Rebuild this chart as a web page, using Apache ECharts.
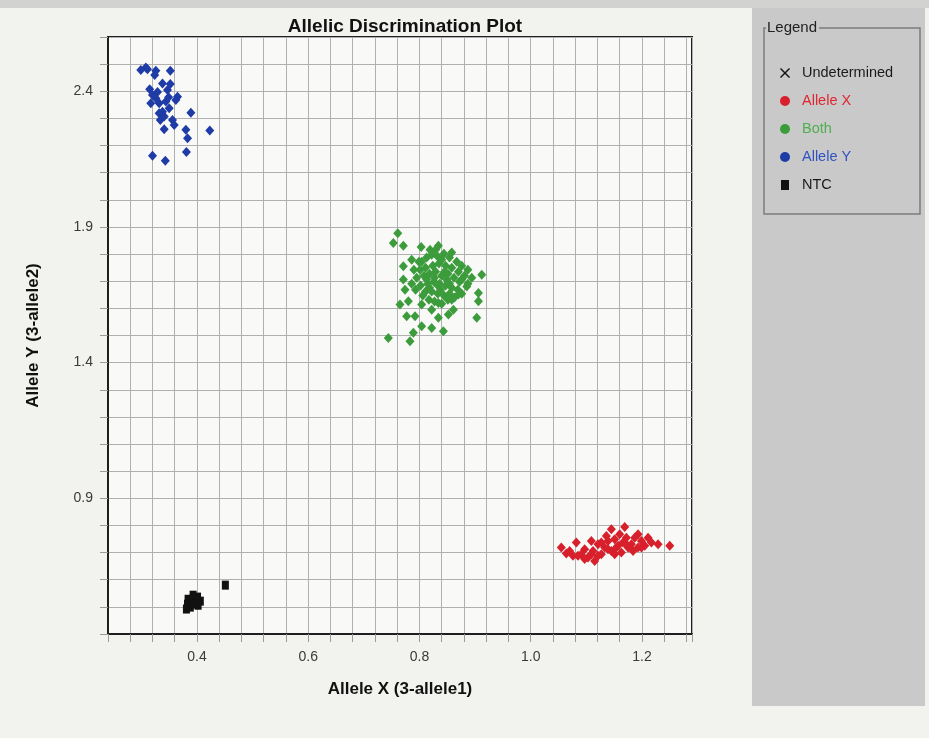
<!DOCTYPE html>
<html>
<head>
<meta charset="utf-8">
<title>Allelic Discrimination Plot</title>
<script src="https://cdn.jsdelivr.net/npm/echarts@6.0.0/dist/echarts.min.js"></script>
<style>
  html, body { margin: 0; padding: 0; background: #f2f2ee; }
  #chart { width: 929px; height: 738px; }
</style>
</head>
<body>
<div id="chart"></div>
<script>
// Allelic discrimination plot: [Allele X, Allele Y] per well
const seriesNames = ['Undetermined', 'Allele X', 'Both', 'Allele Y', 'NTC'];

const undeterminedPoints = [];

const alleleXPoints = [
  [1.055, 0.719], [1.070, 0.706], [1.082, 0.737], [1.076, 0.688], [1.091, 0.694],
  [1.097, 0.712], [1.103, 0.682], [1.115, 0.669], [1.112, 0.706], [1.121, 0.731],
  [1.127, 0.694], [1.133, 0.719], [1.139, 0.743], [1.145, 0.786], [1.169, 0.794],
  [1.151, 0.749], [1.157, 0.725], [1.163, 0.700], [1.172, 0.755], [1.181, 0.731],
  [1.187, 0.755], [1.193, 0.719], [1.199, 0.743], [1.205, 0.725], [1.211, 0.755],
  [1.229, 0.731], [1.250, 0.725], [1.145, 0.706], [1.121, 0.688], [1.175, 0.719],
  [1.160, 0.768], [1.136, 0.761], [1.193, 0.768], [1.109, 0.743], [1.097, 0.676],
  [1.064, 0.697], [1.085, 0.688], [1.127, 0.737], [1.154, 0.719], [1.184, 0.706],
  [1.217, 0.737], [1.166, 0.737], [1.139, 0.712], [1.172, 0.731], [1.199, 0.719],
  [1.151, 0.694], [1.109, 0.694]
];

const bothPoints = [
  [0.761, 1.877], [0.753, 1.841], [0.771, 1.831], [0.803, 1.826], [0.819, 1.816],
  [0.834, 1.831], [0.858, 1.806], [0.912, 1.724], [0.906, 1.657], [0.906, 1.626],
  [0.903, 1.565], [0.744, 1.491], [0.783, 1.479], [0.789, 1.510], [0.804, 1.534],
  [0.843, 1.516], [0.822, 1.528], [0.834, 1.565], [0.861, 1.595], [0.852, 1.577],
  [0.777, 1.571], [0.792, 1.571], [0.765, 1.614], [0.780, 1.626], [0.804, 1.614],
  [0.774, 1.669], [0.771, 1.706], [0.771, 1.755], [0.786, 1.779], [0.876, 1.706],
  [0.885, 1.681], [0.870, 1.651], [0.822, 1.595], [0.834, 1.620], [0.858, 1.632],
  [0.804, 1.772], [0.813, 1.787], [0.822, 1.798], [0.833, 1.790], [0.844, 1.801],
  [0.854, 1.787], [0.867, 1.772], [0.876, 1.757], [0.801, 1.742], [0.811, 1.750],
  [0.824, 1.757], [0.835, 1.765], [0.847, 1.757], [0.858, 1.750], [0.870, 1.735],
  [0.881, 1.720], [0.795, 1.713], [0.808, 1.720], [0.818, 1.728], [0.829, 1.735],
  [0.840, 1.720], [0.851, 1.728], [0.862, 1.713], [0.872, 1.698], [0.887, 1.691],
  [0.802, 1.684], [0.815, 1.691], [0.826, 1.698], [0.836, 1.691], [0.847, 1.684],
  [0.858, 1.676], [0.869, 1.669], [0.811, 1.662], [0.822, 1.662], [0.833, 1.654],
  [0.844, 1.647], [0.854, 1.654], [0.817, 1.632], [0.827, 1.625], [0.840, 1.617],
  [0.851, 1.632], [0.806, 1.647], [0.793, 1.669], [0.786, 1.691], [0.790, 1.742],
  [0.799, 1.772], [0.863, 1.640], [0.876, 1.654], [0.838, 1.669], [0.849, 1.706],
  [0.827, 1.713], [0.818, 1.676], [0.854, 1.691], [0.845, 1.735], [0.833, 1.684],
  [0.813, 1.706], [0.894, 1.713], [0.887, 1.742], [0.829, 1.816], [0.840, 1.779]
];

const alleleYPoints = [
  [0.299, 2.478], [0.308, 2.488], [0.311, 2.481], [0.326, 2.476], [0.324, 2.460],
  [0.352, 2.476], [0.338, 2.429], [0.315, 2.407], [0.347, 2.405], [0.365, 2.380],
  [0.362, 2.368], [0.326, 2.374], [0.317, 2.356], [0.332, 2.356], [0.344, 2.362],
  [0.338, 2.325], [0.332, 2.319], [0.350, 2.337], [0.341, 2.307], [0.356, 2.294],
  [0.389, 2.321], [0.341, 2.260], [0.359, 2.276], [0.380, 2.258], [0.383, 2.227],
  [0.423, 2.255], [0.320, 2.162], [0.343, 2.144], [0.381, 2.176], [0.349, 2.378],
  [0.329, 2.397], [0.320, 2.386], [0.334, 2.294], [0.352, 2.427]
];

const ntcPoints = [
  [0.383, 0.510], [0.392, 0.528], [0.401, 0.536], [0.406, 0.521], [0.388, 0.499],
  [0.397, 0.510], [0.381, 0.492], [0.402, 0.506], [0.393, 0.543], [0.384, 0.528],
  [0.451, 0.580]
];

// labelled ticks (grid lines every 0.04 on X, every 0.1 on Y)
const xTickLabels = [0.4, 0.6, 0.8, 1.0, 1.2];
const yTickLabels = [0.9, 1.4, 1.9, 2.4];

const COLORS = {
  undetermined: '#111111',
  alleleX: '#d8202c',
  both: '#3c9c3c',
  alleleY: '#1f3ca6',
  ntc: '#111111',
};
const TEXT_COLORS = ['#1a1a1a', '#e0262e', '#4fae4f', '#2f52c0', '#1a1a1a'];

const SANS = "'Liberation Sans', Arial, sans-serif";
const X_ICON = 'path://M0,1L1,0L5,4L9,0L10,1L6,5L10,9L9,10L5,6L1,10L0,9L4,5Z';
const SQUARE_ICON = 'path://M0,0L8,0L8,10L0,10Z';

const pickLabel = (list) => (v) => {
  const hit = list.find((t) => Math.abs(t - v) < 1e-6);
  return hit === undefined ? '' : hit.toFixed(1);
};

const chart = echarts.init(document.getElementById('chart'), null, { renderer: 'canvas' });

const scatter = (name, data, color, symbol, size) => ({
  name,
  type: 'scatter',
  data,
  symbol,
  symbolSize: size,
  itemStyle: { color, opacity: 1 },
  emphasis: { disabled: true },
  z: 3,
});

chart.setOption({
  backgroundColor: '#f2f2ee',
  animation: false,
  title: {
    text: 'Allelic Discrimination Plot',
    left: 400,
    textAlign: 'center',
    top: 12,
    textStyle: { fontFamily: SANS, fontWeight: 'bold', fontSize: 19, color: '#111' },
  },
  graphic: [
    { type: 'rect', shape: { x: 0, y: 0, width: 929, height: 8 }, style: { fill: '#d2d2d0' }, z: -10 },
    { type: 'rect', shape: { x: 752, y: 8, width: 173, height: 698 }, style: { fill: '#c9c9c9' }, z: -10 },
    { type: 'rect', shape: { x: 764, y: 28, width: 156, height: 186 },
      style: { fill: 'none', stroke: '#7c7c7c', lineWidth: 1.5 }, z: -5 },
    { type: 'text', x: 766, y: 20,
      style: { text: 'Legend', fill: '#222', font: '15px ' + SANS, backgroundColor: '#c9c9c9', padding: [0, 2, 0, 1] },
      z: 5 },
  ],
  legend: {
    orient: 'vertical',
    left: 775,
    top: 60,
    itemWidth: 24,
    itemHeight: 10,
    itemGap: 12,
    selectedMode: false,
    textStyle: { fontFamily: SANS, fontSize: 14.5, lineHeight: 16 },
    data: [
      { name: 'Undetermined', icon: X_ICON, textStyle: { color: TEXT_COLORS[0] } },
      { name: 'Allele X', icon: 'circle', textStyle: { color: TEXT_COLORS[1] } },
      { name: 'Both', icon: 'circle', textStyle: { color: TEXT_COLORS[2] } },
      { name: 'Allele Y', icon: 'circle', textStyle: { color: TEXT_COLORS[3] } },
      { name: 'NTC', icon: SQUARE_ICON, textStyle: { color: TEXT_COLORS[4] } },
    ],
  },
  grid: {
    left: 108, top: 37, width: 584, height: 597,
    show: true, backgroundColor: '#f9f9f7', borderColor: '#1e1e1e', borderWidth: 2,
  },
  xAxis: {
    type: 'value',
    min: 0.24, max: 1.29, interval: 0.04,
    name: 'Allele X (3-allele1)',
    nameLocation: 'middle',
    nameGap: 47,
    nameTextStyle: { fontFamily: SANS, fontWeight: 'bold', fontSize: 17, color: '#111' },
    axisLine: { show: true, lineStyle: { color: '#1e1e1e', width: 2 } },
    axisTick: { show: true, length: 8, lineStyle: { color: '#9a9a9a' } },
    axisLabel: {
      margin: 16, fontFamily: SANS, fontSize: 14, color: '#3a3a3a',
      formatter: pickLabel(xTickLabels),
    },
    splitLine: { show: true, lineStyle: { color: '#b0b0b0', width: 1 } },
  },
  yAxis: {
    type: 'value',
    min: 0.4, max: 2.6, interval: 0.1,
    name: 'Allele Y (3-allele2)',
    nameLocation: 'middle',
    nameGap: 66,
    nameTextStyle: { fontFamily: SANS, fontWeight: 'bold', fontSize: 17, color: '#111' },
    axisLine: { show: true, lineStyle: { color: '#1e1e1e', width: 2 } },
    axisTick: { show: true, length: 8, lineStyle: { color: '#9a9a9a' } },
    axisLabel: {
      margin: 15, fontFamily: SANS, fontSize: 14, color: '#3a3a3a',
      formatter: pickLabel(yTickLabels),
    },
    splitLine: { show: true, lineStyle: { color: '#b0b0b0', width: 1 } },
  },
  series: [
    scatter(seriesNames[0], undeterminedPoints, COLORS.undetermined, X_ICON, 10),
    scatter(seriesNames[1], alleleXPoints, COLORS.alleleX, 'diamond', [9, 10]),
    scatter(seriesNames[2], bothPoints, COLORS.both, 'diamond', [9, 10]),
    scatter(seriesNames[3], alleleYPoints, COLORS.alleleY, 'diamond', [9, 10]),
    scatter(seriesNames[4], ntcPoints, COLORS.ntc, 'rect', [7, 9]),
  ],
});
</script>
</body>
</html>
